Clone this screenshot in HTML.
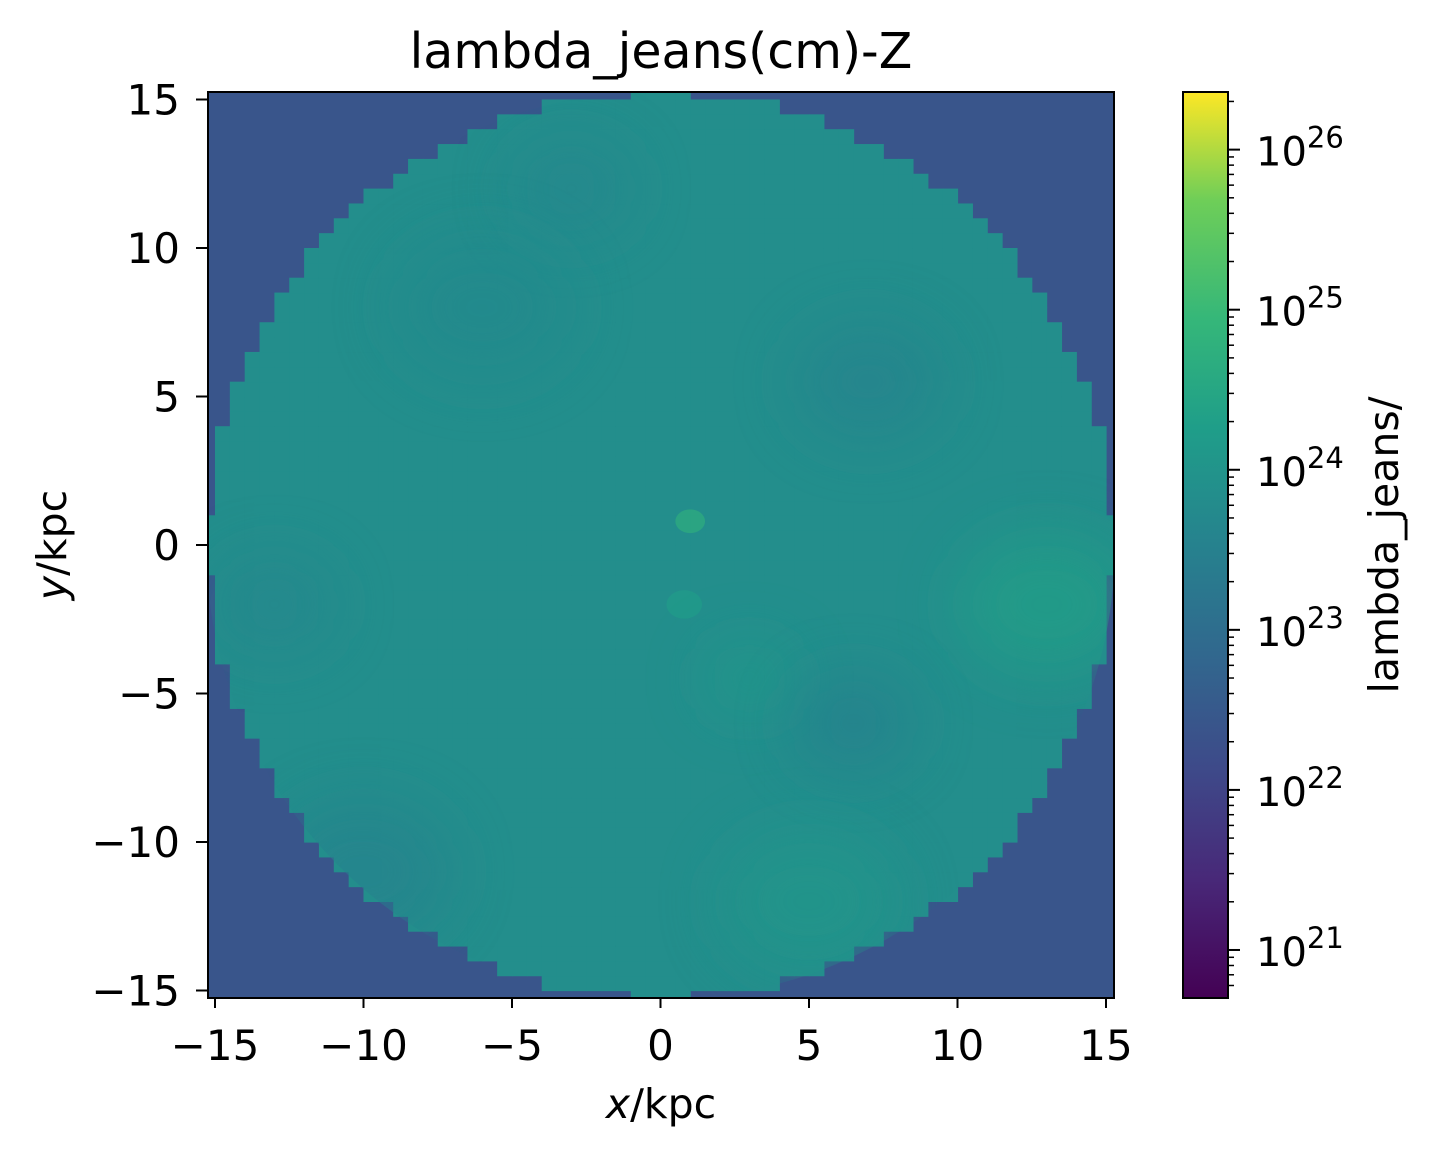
<!DOCTYPE html>
<html><head><meta charset="utf-8"><style>
body{margin:0;background:#fff;font-family:"Liberation Sans","DejaVu Sans",sans-serif}
svg text{font-family:"DejaVu Sans","Liberation Sans",sans-serif;fill:#000}
</style></head><body>
<svg id="c" width="1436" height="1158" xmlns="http://www.w3.org/2000/svg">
<defs>
<linearGradient id="vir" x1="0" y1="1" x2="0" y2="0">
<stop offset="0" stop-color="#440154"/><stop offset="0.13" stop-color="#482878"/><stop offset="0.25" stop-color="#3e4989"/><stop offset="0.38" stop-color="#31688e"/><stop offset="0.5" stop-color="#26828e"/><stop offset="0.63" stop-color="#1f9e89"/><stop offset="0.75" stop-color="#35b779"/><stop offset="0.88" stop-color="#6ece58"/><stop offset="1" stop-color="#fde725"/>
</linearGradient>
<filter id="blur" x="-100%" y="-100%" width="300%" height="300%"><feGaussianBlur stdDeviation="30"/></filter>
<clipPath id="plotclip"><rect x="208" y="92" width="906" height="906"/></clipPath>
</defs>
<text x="661" y="68" style="font-size:49px" text-anchor="middle">lambda_jeans(cm)-Z</text>
<g id="heat" clip-path="url(#plotclip)"></g>
<rect x="208" y="92" width="906" height="906" fill="none" stroke="#000" stroke-width="2"/>
<g id="axes"></g>
<rect x="1183" y="92" width="45" height="906" fill="url(#vir)"/>
<rect x="1183" y="92" width="45" height="906" fill="none" stroke="#000" stroke-width="2"/>
<g id="cbar"></g>
<text x="0" y="0" style="font-size:41px" text-anchor="middle" transform="translate(1398,545) rotate(-90)">lambda_jeans/</text>
<text x="661" y="1118" style="font-size:41px" text-anchor="middle"><tspan font-style="italic">x</tspan>/kpc</text>
<text x="0" y="0" style="font-size:41px" text-anchor="middle" transform="translate(66,545) rotate(-90)"><tspan font-style="italic">y</tspan>/kpc</text>
</svg>
<script>
const xTicks=[-15,-10,-5,0,5,10,15];
const yTicks=[-15,-10,-5,0,5,10,15];
const cbarExps=[21,22,23,24,25,26];
const diskRadius=15.3;
const outsideLogValue=22.4;
const diskLogValue=23.85;
// blobs: x, y, radius(kpc), logValue
const blobX=[13,3,6.5,7,-10,-3,1,-13,5,-6,0.8];
const blobY=[-2,-4.5,-6,5.5,-11,12,0.8,-2,-12,8,-2];
const blobR=[3,1.5,2,2.5,3,2,0.5,2,3,3,0.6];
const blobV=[24.4,24.2,23.4,23.5,23.5,23.6,24.8,23.6,24.1,23.7,24.3];
const NS="http://www.w3.org/2000/svg";
const X0=660.5,Y0=545,S=29.7;
const sx=v=>X0+v*S, sy=v=>Y0-v*S;
const cy=e=>998-(e-20.7)/(26.36-20.7)*906;
const stops=[[0,[68,1,84]],[.13,[72,40,120]],[.25,[62,73,137]],[.38,[49,104,142]],[.5,[38,130,142]],[.63,[31,158,137]],[.75,[53,183,121]],[.88,[110,206,88]],[1,[253,231,37]]];
function col(e){let t=(e-20.7)/(26.36-20.7);t=Math.max(0,Math.min(1,t));for(let i=1;i<stops.length;i++){if(t<=stops[i][0]){const a=stops[i-1],b=stops[i],f=(t-a[0])/(b[0]-a[0]);return 'rgb('+a[1].map((v,k)=>Math.round(v+(b[1][k]-v)*f)).join(',')+')';}}return 'rgb(253,231,37)';}
function mk(tag,attrs,parent){const el=document.createElementNS(NS,tag);for(const k in attrs)el.setAttribute(k,attrs[k]);parent.appendChild(el);return el;}
const heat=document.getElementById('heat');
const bg=mk('rect',{x:208,y:92,width:906,height:906,fill:col(outsideLogValue)},heat);


const disk=mk('g',{},heat);


const step=0.5;
for(let gx=-15.5;gx<15.5;gx+=step){for(let gy=-15.5;gy<15.5;gy+=step){const cx=gx+step/2,cyy=gy+step/2;if(Math.hypot(cx,cyy)<diskRadius){mk('rect',{x:sx(gx),y:sy(gy+step),width:step*S+0.6,height:step*S+0.6,fill:col(diskLogValue)},disk);}}}
const clipC=mk('clipPath',{id:'dc'},document.querySelector('defs'));
mk('circle',{cx:sx(0),cy:sy(0),r:diskRadius*S},clipC);
const bl=mk('g',{'clip-path':'url(#dc)'},heat);
for(let i=0;i<blobX.length;i++){const c=mk('ellipse',{cx:sx(blobX[i]),cy:sy(blobY[i]),rx:blobR[i]*S,ry:blobR[i]*S*0.8,fill:col(blobV[i]),opacity:0.6},bl);
if(blobR[i]>1)c.setAttribute('filter','url(#blur)');

}
const ax=document.getElementById('axes');
xTicks.forEach(v=>{mk('line',{x1:sx(v),x2:sx(v),y1:998,y2:1008,stroke:'#000','stroke-width':2},ax);const t=mk('text',{x:sx(v),y:1060,style:'font-size:42px','text-anchor':'middle'},ax);t.textContent=(v<0?'\u2212':'')+Math.abs(v);

});
yTicks.forEach(v=>{mk('line',{x1:196,x2:208,y1:sy(v),y2:sy(v),stroke:'#000','stroke-width':2},ax);const t=mk('text',{x:180,y:sy(v)+15,style:'font-size:42px','text-anchor':'end'},ax);t.textContent=(v<0?'\u2212':'')+Math.abs(v);

});
const cb=document.getElementById('cbar');
for(let e=20;e<=26;e++){for(let m=1;m<10;m++){const y=cy(e+Math.log10(m));if(y<92||y>998)continue;mk('line',{x1:1228,x2:1228+(m==1?12:6),y1:y,y2:y,stroke:'#000','stroke-width':m==1?2:1.5},cb);}}
cbarExps.forEach(e=>{const t=mk('text',{x:1256,y:cy(e)+16,style:'font-size:40px'},cb);t.innerHTML='10<tspan dy="-18" style="font-size:29px">'+e+'</tspan>';

});
</script>
</body></html>
